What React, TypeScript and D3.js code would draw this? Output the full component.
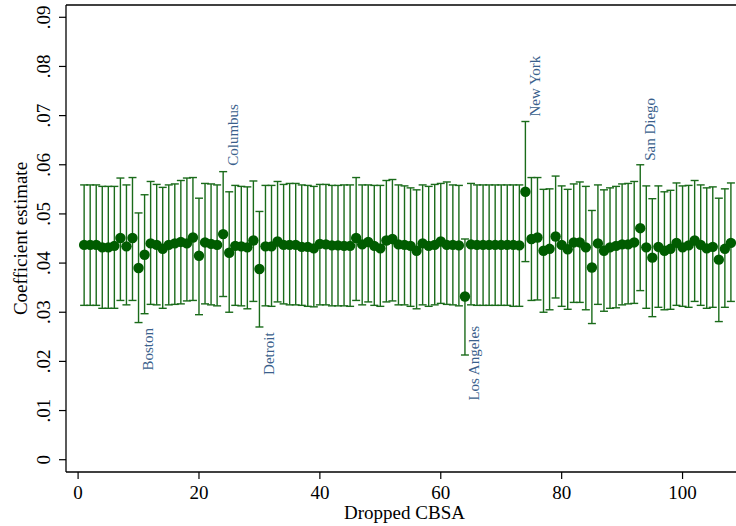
import React from "react";
import * as d3 from "d3";

// Dropped CBSA index 1..108 (visible part)
const estimates: number[] = [
  0.0437, 0.0437, 0.0437, 0.0432, 0.0432, 0.0435, 0.0451, 0.0434, 0.0451, 0.0390,
  0.0417, 0.0440, 0.0437, 0.0429, 0.0437, 0.0440, 0.0443, 0.0440, 0.0452, 0.0415,
  0.0442, 0.0439, 0.0437, 0.0459, 0.0421, 0.0435, 0.0434, 0.0432, 0.0446, 0.0388,
  0.0434, 0.0434, 0.0444, 0.0437, 0.0437, 0.0437, 0.0433, 0.0433, 0.0430, 0.0439,
  0.0438, 0.0436, 0.0436, 0.0435, 0.0435, 0.0451, 0.0438, 0.0443, 0.0435, 0.0430,
  0.0446, 0.0449, 0.0438, 0.0437, 0.0435, 0.0425, 0.0440, 0.0435, 0.0437, 0.0444,
  0.0437, 0.0437, 0.0436, 0.0332, 0.0438, 0.0437, 0.0437, 0.0437, 0.0437, 0.0437,
  0.0437, 0.0437, 0.0436, 0.0545, 0.0449, 0.0452, 0.0425, 0.0429, 0.0454, 0.0437,
  0.0428, 0.0442, 0.0442, 0.0432, 0.0391, 0.0440, 0.0425, 0.0432, 0.0435, 0.0438,
  0.0438, 0.0442, 0.0471, 0.0432, 0.0411, 0.0433, 0.0425, 0.0429, 0.0441, 0.0432,
  0.0436, 0.0446, 0.0437, 0.0430, 0.0433, 0.0407, 0.0429, 0.0441,
];

const upperCI: number[] = [
  0.0559, 0.0559, 0.0559, 0.0556, 0.0556, 0.0556, 0.0573, 0.0559, 0.0574, 0.0502,
  0.0539, 0.0566, 0.0560, 0.0554, 0.0559, 0.0561, 0.0568, 0.0573, 0.0574, 0.0532,
  0.0562, 0.0561, 0.0559, 0.0586, 0.0545, 0.0558, 0.0556, 0.0555, 0.0567, 0.0505,
  0.0558, 0.0558, 0.0566, 0.0560, 0.0562, 0.0562, 0.0559, 0.0558, 0.0556, 0.0560,
  0.0560, 0.0558, 0.0558, 0.0559, 0.0559, 0.0574, 0.0559, 0.0559, 0.0558, 0.0558,
  0.0568, 0.0570, 0.0559, 0.0557, 0.0553, 0.0549, 0.0559, 0.0556, 0.0560, 0.0562,
  0.0565, 0.0559, 0.0558, 0.0449, 0.0562, 0.0559, 0.0559, 0.0559, 0.0559, 0.0559,
  0.0559, 0.0559, 0.0559, 0.0688, 0.0574, 0.0574, 0.0550, 0.0551, 0.0577, 0.0557,
  0.0550, 0.0561, 0.0565, 0.0556, 0.0507, 0.0559, 0.0549, 0.0553, 0.0556, 0.0561,
  0.0562, 0.0566, 0.0600, 0.0557, 0.0531, 0.0557, 0.0545, 0.0548, 0.0563, 0.0557,
  0.0558, 0.0568, 0.0559, 0.0553, 0.0555, 0.0532, 0.0551, 0.0563,
];

const lowerCI: number[] = [
  0.0314, 0.0314, 0.0314, 0.0308, 0.0308, 0.0308, 0.0324, 0.0315, 0.0324, 0.0279,
  0.0297, 0.0316, 0.0315, 0.0308, 0.0315, 0.0316, 0.0317, 0.0323, 0.0324, 0.0295,
  0.0317, 0.0315, 0.0313, 0.0332, 0.0300, 0.0314, 0.0313, 0.0307, 0.0322, 0.0270,
  0.0313, 0.0312, 0.0321, 0.0317, 0.0315, 0.0315, 0.0314, 0.0312, 0.0311, 0.0315,
  0.0315, 0.0313, 0.0313, 0.0313, 0.0312, 0.0324, 0.0315, 0.0321, 0.0314, 0.0312,
  0.0321, 0.0323, 0.0315, 0.0315, 0.0312, 0.0307, 0.0315, 0.0312, 0.0315, 0.0318,
  0.0316, 0.0315, 0.0313, 0.0213, 0.0315, 0.0314, 0.0314, 0.0314, 0.0314, 0.0314,
  0.0314, 0.0312, 0.0312, 0.0403, 0.0324, 0.0325, 0.0300, 0.0305, 0.0329, 0.0312,
  0.0306, 0.0320, 0.0320, 0.0305, 0.0277, 0.0316, 0.0302, 0.0308, 0.0309, 0.0315,
  0.0317, 0.0318, 0.0344, 0.0308, 0.0291, 0.0310, 0.0305, 0.0306, 0.0314, 0.0312,
  0.0310, 0.0322, 0.0314, 0.0308, 0.0310, 0.0281, 0.0310, 0.0322,
];

// Labelled CBSAs
const labelIndex: number[] = [10, 24, 30, 64, 74, 93];
const labelNames: string[] = ["Boston", "Columbus", "Detroit", "Los Angeles", "New York", "San Diego"];
const labelAbove: boolean[] = [false, true, false, false, true, true];
const labelAt: number[] = [0.0268, 0.0598, 0.0259, 0.0272, 0.0698, 0.0608];

const xTicks: number[] = [0, 20, 40, 60, 80, 100];
const yTicks: number[] = [0, 0.01, 0.02, 0.03, 0.04, 0.05, 0.06, 0.07, 0.08, 0.09];
const yTickLabels: string[] = ["0", ".01", ".02", ".03", ".04", ".05", ".06", ".07", ".08", ".09"];

const W = 736;
const H = 526;
const left = 66;
const right = 743;
const top = 5;
const bottom = 472;

export default function App() {
  const x = d3.scaleLinear().domain([-2, 110]).range([left, right]);
  const y = d3.scaleLinear().domain([-0.0025, 0.0925]).range([bottom, top]);

  const barColor = "#1a6b1a";
  const markColor = "#005c00";
  const labelColor = "#3a5f8c";
  const font = "'Liberation Serif', 'Times New Roman', serif";
  const cap = 4;

  const pts = estimates.map((e, i) => ({ i: i + 1, e, u: upperCI[i], l: lowerCI[i] }));

  return (
    <svg
      width={W}
      height={H}
      style={{ position: "absolute", left: 0, top: 0, background: "#fff" }}
      fontFamily={font}
    >
      <rect x={0} y={0} width={W} height={H} fill="#fff" />
      {/* frame */}
      <line x1={left} x2={W} y1={top} y2={top} stroke="#000" strokeWidth={1.3} />
      <line x1={left} x2={left} y1={top} y2={bottom} stroke="#000" strokeWidth={1.3} />
      <line x1={left} x2={W} y1={bottom} y2={bottom} stroke="#000" strokeWidth={1.3} />

      {/* y axis */}
      {yTicks.map((t, k) => (
        <g key={"y" + k}>
          <line x1={left - 7} x2={left} y1={y(t)} y2={y(t)} stroke="#000" strokeWidth={1.2} />
          <text
            transform={`translate(${left - 16.5},${y(t)}) rotate(-90)`}
            textAnchor="middle"
            fontSize={19}
            fill="#000"
          >
            {yTickLabels[k]}
          </text>
        </g>
      ))}
      <text
        transform={`translate(26.5,${(top + bottom) / 2}) rotate(-90)`}
        textAnchor="middle"
        fontSize={19}
        fill="#000"
      >
        Coefficient estimate
      </text>

      {/* x axis */}
      {xTicks.map((t, k) => (
        <g key={"x" + k}>
          <line x1={x(t)} x2={x(t)} y1={bottom} y2={bottom + 7} stroke="#000" strokeWidth={1.2} />
          <text x={x(t)} y={498.5} textAnchor="middle" fontSize={19} fill="#000">
            {t}
          </text>
        </g>
      ))}
      <text x={(left + right) / 2} y={518.5} textAnchor="middle" fontSize={19} fill="#000">
        Dropped CBSA
      </text>

      {/* confidence intervals */}
      {pts.map((p) => (
        <g key={"ci" + p.i} stroke={barColor} strokeWidth={1.4}>
          <line x1={x(p.i)} x2={x(p.i)} y1={y(p.u)} y2={y(p.l)} />
          <line x1={x(p.i) - cap} x2={x(p.i) + cap} y1={y(p.u)} y2={y(p.u)} />
          <line x1={x(p.i) - cap} x2={x(p.i) + cap} y1={y(p.l)} y2={y(p.l)} />
        </g>
      ))}

      {/* estimates */}
      {pts.map((p) => (
        <circle key={"pt" + p.i} cx={x(p.i)} cy={y(p.e)} r={5.2} fill={markColor} />
      ))}

      {/* city labels */}
      {labelIndex.map((idx, k) => (
        <text
          key={"lab" + k}
          transform={`translate(${x(idx) + 14.5},${y(labelAt[k])}) rotate(-90)`}
          textAnchor={labelAbove[k] ? "start" : "end"}
          fontSize={15}
          fill={labelColor}
        >
          {labelNames[k]}
        </text>
      ))}
    </svg>
  );
}
